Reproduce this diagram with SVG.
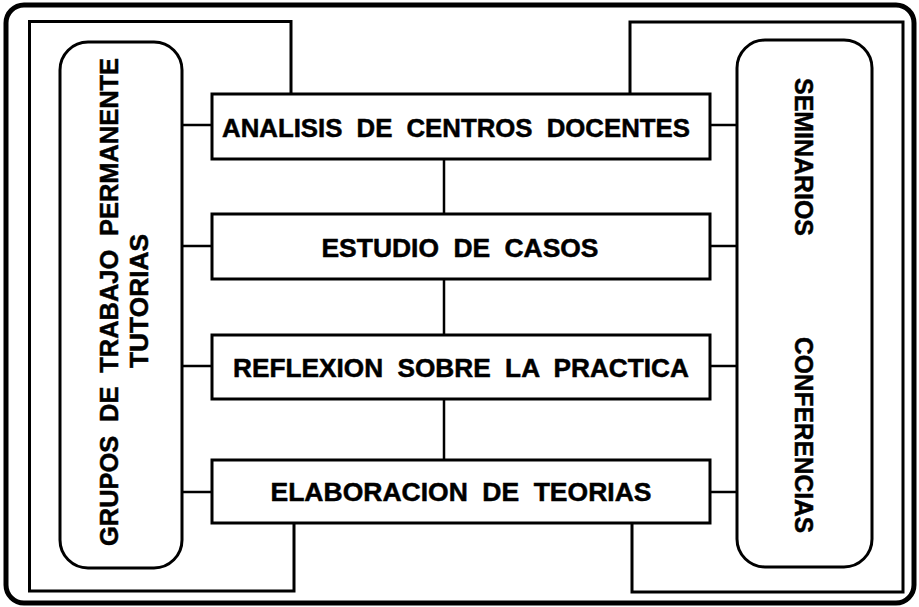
<svg xmlns="http://www.w3.org/2000/svg" width="919" height="607" viewBox="0 0 919 607">
<style>
.frame{fill:none;stroke:#000;stroke-width:3}
.box{fill:#fff;stroke:#000;stroke-width:3}
.line{fill:none;stroke:#000;stroke-width:2.5}
.lbl{font-family:"Liberation Sans",Arial,Helvetica,sans-serif;font-weight:bold;font-size:26px;word-spacing:7px;fill:#000;stroke:#000;stroke-width:0.5}
</style>
<rect x="0" y="0" width="919" height="607" fill="#fff"/>
<rect id="outer" x="6" y="5" width="908" height="598" rx="18" ry="18" fill="none" stroke="#000" stroke-width="5"/>
<g id="connectors">
<path class="frame" d="M291,94 V21.5 H29.5 V591 H294 V523"/>
<path class="frame" d="M630,94 V22 H903 V592 H632 V523"/>
<path class="line" d="M182,125 H212 M182,246 H212 M182,366 H212 M182,492 H212"/>
<path class="line" d="M710,125 H737 M710,246 H737 M710,366 H737 M710,492 H737"/>
<path class="line" d="M444,159 V214 M444,279 V335 M444,399 V460"/>
</g>
<g id="grupos">
<rect class="box" x="60" y="42" width="122" height="526" rx="28" ry="28"/>
<text class="lbl" transform="translate(118,302) rotate(-90)" text-anchor="middle" textLength="488" lengthAdjust="spacingAndGlyphs">GRUPOS DE TRABAJO PERMANENTE</text>
<text class="lbl" transform="translate(148,301) rotate(-90)" text-anchor="middle" textLength="134" lengthAdjust="spacingAndGlyphs">TUTORIAS</text>
</g>
<g id="seminarios">
<rect class="box" x="737" y="40" width="135" height="527" rx="28" ry="28"/>
<text class="lbl" transform="translate(795,157) rotate(90)" text-anchor="middle" textLength="158" lengthAdjust="spacingAndGlyphs">SEMINARIOS</text>
<text class="lbl" transform="translate(795,435) rotate(90)" text-anchor="middle" textLength="196" lengthAdjust="spacingAndGlyphs">CONFERENCIAS</text>
</g>
<g id="analisis">
<rect class="box" x="212" y="94" width="498" height="65"/>
<text class="lbl" x="456" y="137" text-anchor="middle" textLength="468" lengthAdjust="spacingAndGlyphs">ANALISIS DE CENTROS DOCENTES</text>
</g>
<g id="estudio">
<rect class="box" x="212" y="214" width="498" height="65"/>
<text class="lbl" x="460" y="257" text-anchor="middle" textLength="277" lengthAdjust="spacingAndGlyphs">ESTUDIO DE CASOS</text>
</g>
<g id="reflexion">
<rect class="box" x="212" y="335" width="498" height="64"/>
<text class="lbl" x="461" y="377" text-anchor="middle" textLength="456" lengthAdjust="spacingAndGlyphs">REFLEXION SOBRE LA PRACTICA</text>
</g>
<g id="elaboracion">
<rect class="box" x="212" y="460" width="498" height="63"/>
<text class="lbl" x="461" y="501" text-anchor="middle" textLength="381" lengthAdjust="spacingAndGlyphs">ELABORACION DE TEORIAS</text>
</g>
</svg>
